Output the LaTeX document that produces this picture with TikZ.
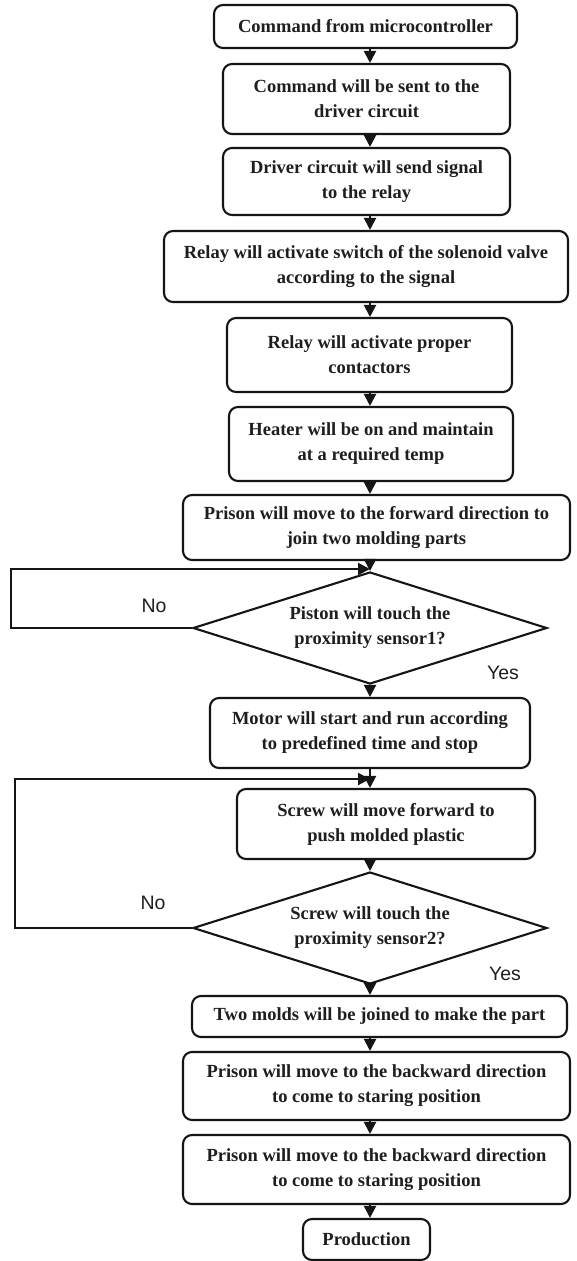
\documentclass[tikz,border=0pt]{standalone}
\usepackage{fontspec}
\setmainfont{Liberation Serif}
\newfontfamily\arialf{Liberation Sans}
\usetikzlibrary{arrows.meta,shapes.geometric}
\definecolor{lc}{HTML}{151515}
\definecolor{txt}{HTML}{1E1E1E}
\begin{document}
\begin{tikzpicture}[x=1pt,y=-1pt,
  box/.style={draw=lc, line width=2.1pt, rounded corners=9pt, inner sep=0pt, align=center,
    font=\bfseries\fontsize{18.5}{25}\selectfont, text=txt},
  dec/.style={draw=lc, diamond, line width=2.1pt, inner sep=0pt, aspect=3.17, align=center,
    font=\bfseries\fontsize{18.5}{25}\selectfont, text=txt, minimum width=354pt, minimum height=112pt},
  arr/.style={draw=lc, line width=2.1pt, -{Triangle[length=12pt,width=12pt]}},
  lab/.style={font=\arialf\fontsize{19.5}{22}\selectfont, text=txt, inner sep=0pt}]
\useasboundingbox[fill=white] (0,0) rectangle (577,1261);
\coordinate (ax) at (370,0);

\node[box, minimum width=303pt, minimum height=43pt] (b1) at (365.5,26.5) {Command from microcontroller};
\node[box, minimum width=287pt, minimum height=70pt] (b2) at (366.5,99) {Command will be sent to the\\driver circuit};
\node[box, minimum width=287pt, minimum height=67pt] (b3) at (366.5,181.5) {Driver circuit will send signal\\to the relay};
\node[box, minimum width=404pt, minimum height=71pt] (b4) at (366,266.5) {Relay will activate switch of the solenoid valve\\according to the signal};
\node[box, minimum width=285pt, minimum height=74pt] (b5) at (369.5,355) {Relay will activate proper\\contactors};
\node[box, minimum width=284pt, minimum height=74pt] (b6) at (371,444) {Heater will be on and maintain\\at a required temp};
\node[box, minimum width=387pt, minimum height=65pt] (b7) at (376.5,527.5) {Prison will move to the forward direction to\\join two molding parts};
\node[dec] (d1) at (370,628) {Piston will touch the\\proximity sensor1?};
\node[box, minimum width=320pt, minimum height=70pt] (b8) at (370,733) {Motor will start and run according\\to predefined time and stop};
\node[box, minimum width=298pt, minimum height=70pt] (b9) at (386,824) {Screw will move forward to\\push molded plastic};
\node[dec] (d2) at (370,928) {Screw will touch the\\proximity sensor2?};
\node[box, minimum width=375pt, minimum height=41pt] (b10) at (379.5,1016.5) {Two molds will be joined to make the part};
\node[box, minimum width=387pt, minimum height=68pt] (b11) at (376.5,1086) {Prison will move to the backward direction\\to come to staring position};
\node[box, minimum width=387pt, minimum height=69pt] (b12) at (376.5,1169.5) {Prison will move to the backward direction\\to come to staring position};
\node[box, minimum width=127pt, minimum height=41pt] (b13) at (366.5,1239.5) {Production};

\coordinate (l1) at (11,569);
\coordinate (l2) at (15,779);

\draw[arr] (b1.south -| ax) -- (b2.north -| ax);
\draw[arr] (b2.south -| ax) -- (b3.north -| ax);
\draw[arr] (b3.south -| ax) -- (b4.north -| ax);
\draw[arr] (b4.south -| ax) -- (b5.north -| ax);
\draw[arr] (b5.south -| ax) -- (b6.north -| ax);
\draw[arr] (b6.south -| ax) -- (b7.north -| ax);
\draw[arr] (b7.south -| ax) -- (d1.north);
\draw[arr] (d1.west) -| (l1) -- (l1 -| ax);
\draw[arr] (d1.south) -- (b8.north -| ax);
\draw[arr] (b8.south -| ax) -- (b9.north -| ax);
\draw[arr] (d2.west) -| (l2) -- (l2 -| ax);
\draw[arr] (b9.south -| ax) -- (d2.north);
\draw[arr] (d2.south) -- (b10.north -| ax);
\draw[arr] (b10.south -| ax) -- (b11.north -| ax);
\draw[arr] (b11.south -| ax) -- (b12.north -| ax);
\draw[arr] (b12.south -| ax) -- (b13.north -| ax);

\node[lab] (no1) at (154,606) {No};
\node[lab] (yes1) at (503,673) {Yes};
\node[lab] (no2) at (153,903) {No};
\node[lab] (yes2) at (505,974) {Yes};
\end{tikzpicture}
\end{document}
